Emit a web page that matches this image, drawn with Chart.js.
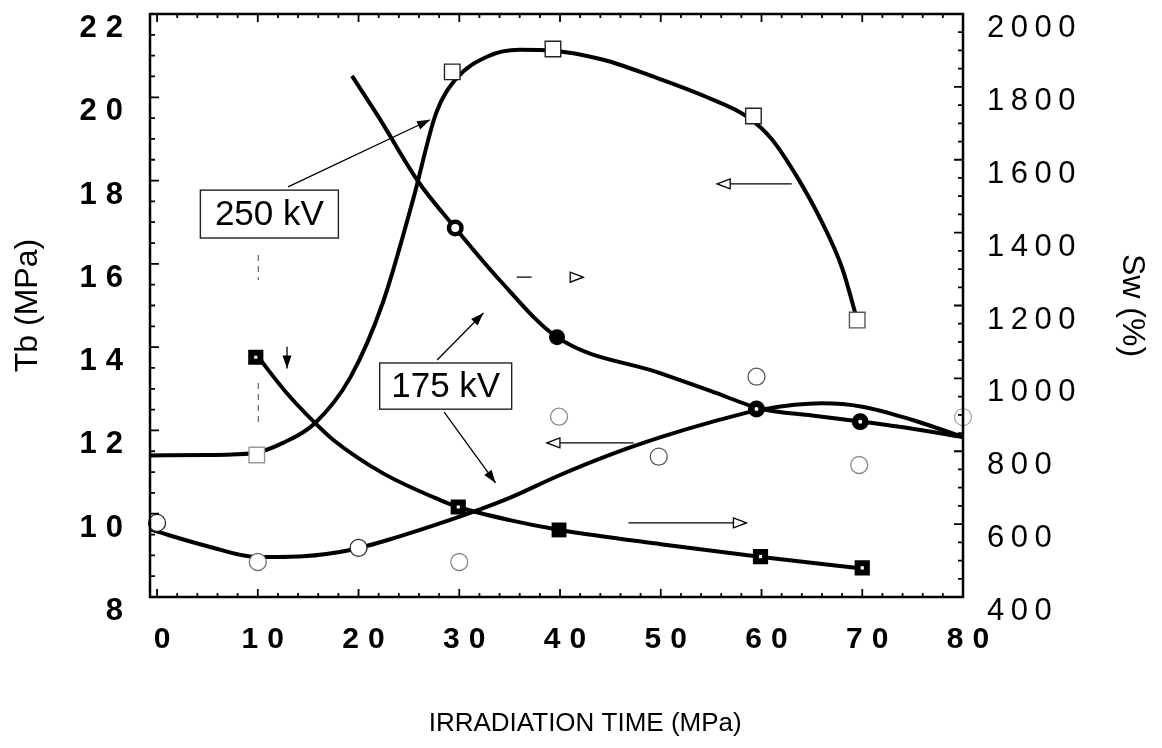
<!DOCTYPE html>
<html>
<head>
<meta charset="utf-8">
<title>Tb and Sw vs irradiation time</title>
<script src="https://cdn.jsdelivr.net/npm/chart.js@4.4.1/dist/chart.umd.min.js"></script>
<style>
    html, body { margin: 0; padding: 0; background: #fff; }
    #wrap { position: relative; width: 1162px; height: 748px; }
</style>
</head>
<body>
<div id="wrap"><canvas id="chart"></canvas></div>
<script>
// --- Values ---
const xTickValues = [0, 10, 20, 30, 40, 50, 60, 70, 80];
const tbTickValues = [8, 10, 12, 14, 16, 18, 20, 22];
const swTickValues = [400, 600, 800, 1000, 1200, 1400, 1600, 1800, 2000];
const xTitle = 'IRRADIATION TIME (MPa)';

// 250 kV, Tb (open squares, left axis)
const tb250CurveTime = [-0.7, 5, 9.5, 12.5, 15.7, 19.2, 22.4, 25.4, 27.7, 29.6, 32.8, 36.0, 39.3, 44.3, 49.2, 54.6, 58.6, 61, 63.5, 66, 68, 69.5];
const tb250CurveTb   = [11.40, 11.41, 11.45, 11.70, 12.18, 13.28, 15.06, 17.53, 19.62, 20.42, 20.98, 21.14, 21.12, 20.90, 20.50, 20.00, 19.53, 19.00, 18.10, 17.00, 15.90, 14.65];
const tb250MarkTime  = [9.9, 29.3, 39.3, 59.2, 69.5];
const tb250MarkTb    = [11.41, 20.61, 21.16, 19.55, 14.65];

// 250 kV, Sw (filled circles, right axis)
const sw250CurveTime = [19.35, 22, 25.9, 29.6, 34.0, 39.7, 50, 55, 60, 65, 70, 75, 80];
const sw250CurveSw   = [1830, 1717, 1541, 1413, 1270, 1113, 1014, 965, 916, 898, 881, 862, 839];
const sw250MarkTime  = [29.6, 39.7, 59.5, 69.8];
const sw250MarkSw    = [1413, 1113, 916, 881];

// 175 kV, Tb (open circles, left axis)
const tb175CurveTime = [-0.7, 5, 9.9, 14.5, 19.2, 24, 29.1, 31.9, 35.0, 40, 45, 50, 55, 60, 66, 70, 75, 80];
const tb175CurveTb   = [9.62, 9.22, 8.96, 8.98, 9.13, 9.45, 9.85, 10.09, 10.38, 10.93, 11.42, 11.84, 12.20, 12.50, 12.65, 12.57, 12.25, 11.84];
const tb175MarkTime  = [0, 10, 20, 30, 39.9, 49.8, 59.5, 69.7, 80];
const tb175MarkTb    = [9.78, 8.84, 9.18, 8.84, 12.33, 11.37, 13.29, 11.17, 12.32];

// 175 kV, Sw (filled squares, right axis)
const sw175CurveTime = [10, 12.8, 15.7, 17.5, 22.4, 28.1, 29.9, 35.0, 40, 50, 60, 70];
const sw175CurveSw   = [1060, 962, 877, 831, 740, 666, 647, 611, 584, 545, 510, 478];
const sw175MarkTime  = [9.8, 29.9, 39.9, 59.9, 70];
const sw175MarkSw    = [1058, 647, 584, 511, 480];

// Labels and arrows, placed in data units (time, Tb)
const labelBoxes = [
    { text: '250 kV', t0: 4.3, t1: 18.0, tbTop: 17.77, tbBottom: 16.62 },
    { text: '175 kV', t0: 22.1, t1: 35.2, tbTop: 13.62, tbBottom: 12.51 }
];
const pointerArrows = [
    { t0: 13.0, tb0: 17.85, t1: 27.1, tb1: 19.46 },
    { t0: 27.8, tb0: 13.69, t1: 32.4, tb1: 14.82 },
    { t0: 28.5, tb0: 12.44, t1: 33.6, tb1: 10.74 },
    { t0: 12.9, tb0: 14.01, t1: 12.9, tb1: 13.49 }
];
const axisArrows = [
    { t0: 63.0, t1: 55.6, tb: 17.92 },
    { t0: 35.7, t1: 42.3, tb: 15.68, dashed: true },
    { t0: 47.3, t1: 38.7, tb: 11.70 },
    { t0: 46.8, t1: 58.5, tb: 9.78 }
];
const scanMarks = [
    { t: 10.05, tb0: 16.21, tb1: 15.61 },
    { t: 10.05, tb0: 13.14, tb1: 12.08 }
];

const FONT = '"Liberation Sans", Arial, Helvetica, sans-serif';

function toPoints(xs, ys) {
    return xs.map((x, i) => ({ x: x, y: ys[i] }));
}

function curve(xs, ys, axis) {
    return {
        data: toPoints(xs, ys),
        yAxisID: axis,
        showLine: true,
        borderColor: '#000',
        borderWidth: 4,
        pointRadius: 0,
        cubicInterpolationMode: 'monotone',
        order: 2
    };
}

/**
 * Draws text with extra letter spacing, like the scanned original.
 * align: 'left', 'right' or 'center' on the visible glyphs.
 */
function spacedText(ctx, text, x, y, align, spacing) {
    const hasSpacing = 'letterSpacing' in ctx;
    if (hasSpacing) ctx.letterSpacing = spacing + 'px';
    let w = ctx.measureText(text).width;
    if (hasSpacing) w -= spacing;
    let left = x;
    if (align === 'right') left = x - w;
    if (align === 'center') left = x - w / 2;
    ctx.textAlign = 'left';
    ctx.fillText(text, left, y);
    if (hasSpacing) ctx.letterSpacing = '0px';
}

function filledHead(ctx, x0, y0, x1, y1, len, half) {
    const a = Math.atan2(y1 - y0, x1 - x0);
    ctx.beginPath();
    ctx.moveTo(x1, y1);
    ctx.lineTo(x1 - len * Math.cos(a) + half * Math.sin(a), y1 - len * Math.sin(a) - half * Math.cos(a));
    ctx.lineTo(x1 - len * Math.cos(a) - half * Math.sin(a), y1 - len * Math.sin(a) + half * Math.cos(a));
    ctx.closePath();
    ctx.fill();
}

// Frame, inward ticks, tick labels and the in-plot notes
const framePlugin = {
    id: 'framePlugin',
    afterDatasetsDraw(chart) {
        const { ctx, chartArea: area } = chart;
        const xs = chart.scales.x;
        const yl = chart.scales.y;
        const yr = chart.scales.y2;
        ctx.save();
        ctx.strokeStyle = '#000';
        ctx.fillStyle = '#000';

        // frame
        ctx.lineWidth = 2.5;
        ctx.strokeRect(area.left, area.top, area.right - area.left, area.bottom - area.top);

        // ticks pointing into the plot
        ctx.lineWidth = 1.8;
        ctx.beginPath();
        for (let v = 0; v <= 80; v += 2) {
            const px = xs.getPixelForValue(v);
            const len = v % 10 === 0 ? 8 : 4;
            ctx.moveTo(px, area.bottom); ctx.lineTo(px, area.bottom - len);
            ctx.moveTo(px, area.top); ctx.lineTo(px, area.top + len);
        }
        for (let v = 8; v <= 22; v += 0.5) {
            const py = yl.getPixelForValue(v);
            const len = v % 2 === 0 ? 9 : 5;
            ctx.moveTo(area.left, py); ctx.lineTo(area.left + len, py);
        }
        for (let v = 400; v <= 2000; v += 50) {
            const py = yr.getPixelForValue(v);
            const len = v % 200 === 0 ? 9 : 5;
            ctx.moveTo(area.right, py); ctx.lineTo(area.right - len, py);
        }
        ctx.stroke();

        // tick labels
        ctx.textBaseline = 'alphabetic';
        ctx.font = 'bold 30px ' + FONT;
        xTickValues.forEach(v => {
            spacedText(ctx, String(v), xs.getPixelForValue(v) + 5, area.bottom + 51, 'center', 9);
        });
        ctx.font = 'bold 31px ' + FONT;
        tbTickValues.forEach(v => {
            spacedText(ctx, String(v), 123, yl.getPixelForValue(v) + 23, 'right', 9);
        });
        ctx.font = '31px ' + FONT;
        swTickValues.forEach(v => {
            spacedText(ctx, String(v), area.right + 24, yr.getPixelForValue(v) + 23, 'left', 6.5);
        });

        // x axis title, centred under the time axis as in the scan
        ctx.font = '26px ' + FONT;
        ctx.textBaseline = 'middle';
        spacedText(ctx, xTitle, xs.getPixelForValue(42.5), area.bottom + 127, 'center', 0);

        // label boxes
        labelBoxes.forEach(b => {
            const x0 = xs.getPixelForValue(b.t0), x1 = xs.getPixelForValue(b.t1);
            const y0 = yl.getPixelForValue(b.tbTop), y1 = yl.getPixelForValue(b.tbBottom);
            ctx.fillStyle = '#fff';
            ctx.fillRect(x0, y0, x1 - x0, y1 - y0);
            ctx.lineWidth = 1.4;
            ctx.strokeStyle = '#222';
            ctx.strokeRect(x0, y0, x1 - x0, y1 - y0);
            ctx.fillStyle = '#000';
            ctx.font = '35px ' + FONT;
            ctx.textAlign = 'center';
            ctx.textBaseline = 'middle';
            ctx.fillText(b.text, (x0 + x1) / 2, (y0 + y1) / 2 + 1);
        });

        // arrows from the labels to the curves
        ctx.strokeStyle = '#000';
        ctx.fillStyle = '#000';
        ctx.lineWidth = 1.3;
        pointerArrows.forEach(a => {
            const x0 = xs.getPixelForValue(a.t0), y0 = yl.getPixelForValue(a.tb0);
            const x1 = xs.getPixelForValue(a.t1), y1 = yl.getPixelForValue(a.tb1);
            ctx.beginPath();
            ctx.moveTo(x0, y0); ctx.lineTo(x1, y1);
            ctx.stroke();
            filledHead(ctx, x0, y0, x1, y1, 13, 4.5);
        });

        // open-headed arrows telling which axis a curve uses
        axisArrows.forEach(a => {
            const x0 = xs.getPixelForValue(a.t0), x1 = xs.getPixelForValue(a.t1);
            const y = yl.getPixelForValue(a.tb);
            const dir = Math.sign(x1 - x0);
            const base = x1 - dir * 13;
            ctx.lineWidth = 1.3;
            ctx.setLineDash(a.dashed ? [15, 38] : []);
            ctx.beginPath();
            ctx.moveTo(x0, y); ctx.lineTo(base, y);
            ctx.stroke();
            ctx.setLineDash([]);
            ctx.beginPath();
            ctx.moveTo(x1, y);
            ctx.lineTo(base, y - 5);
            ctx.lineTo(base, y + 5);
            ctx.closePath();
            ctx.stroke();
        });

        // faint dashed trace under the 250 kV box
        ctx.strokeStyle = '#666';
        ctx.lineWidth = 1.2;
        ctx.setLineDash([6, 5]);
        scanMarks.forEach(m => {
            const px = xs.getPixelForValue(m.t);
            ctx.beginPath();
            ctx.moveTo(px, yl.getPixelForValue(m.tb0));
            ctx.lineTo(px, yl.getPixelForValue(m.tb1));
            ctx.stroke();
        });
        ctx.restore();
    }
};

new Chart(document.getElementById('chart'), {
    type: 'scatter',
    data: {
        datasets: [
            curve(tb250CurveTime, tb250CurveTb, 'y'),
            curve(sw250CurveTime, sw250CurveSw, 'y2'),
            curve(tb175CurveTime, tb175CurveTb, 'y'),
            curve(sw175CurveTime, sw175CurveSw, 'y2'),
            {
                data: toPoints(tb250MarkTime, tb250MarkTb),
                yAxisID: 'y',
                pointStyle: 'rect',
                pointRadius: 11,
                pointBorderWidth: 1.4,
                pointBackgroundColor: '#fff',
                pointBorderColor: ['#999', '#222', '#222', '#222', '#555'],
                clip: false,
                order: 1
            },
            {
                data: toPoints(sw250MarkTime, sw250MarkSw),
                yAxisID: 'y2',
                pointStyle: 'circle',
                pointRadius: [6.25, 8, 5.25, 5.25],
                pointBorderWidth: [4.5, 0, 6.5, 6.5],
                pointBackgroundColor: ['#fff', '#000', '#fff', '#fff'],
                pointBorderColor: '#000',
                clip: false,
                order: 1
            },
            {
                data: toPoints(tb175MarkTime, tb175MarkTb),
                yAxisID: 'y',
                pointStyle: 'circle',
                pointRadius: 8.5,
                pointBorderWidth: 1.3,
                pointBackgroundColor: '#fff',
                pointBorderColor: ['#222', '#777', '#222', '#888', '#888', '#555', '#555', '#888', '#aaa'],
                clip: false,
                order: 1
            },
            {
                data: toPoints(sw175MarkTime, sw175MarkSw),
                yAxisID: 'y2',
                pointStyle: 'rect',
                pointRadius: [6.5, 6.5, 10.5, 6.5, 6.5],
                pointBorderWidth: [6, 6, 0, 6, 6],
                pointBackgroundColor: ['#fff', '#fff', '#000', '#fff', '#fff'],
                pointBorderColor: '#000',
                clip: false,
                order: 1
            }
        ]
    },
    options: {
        responsive: true,
        maintainAspectRatio: false,
        animation: false,
        events: [],
        layout: { padding: { top: 14, left: 0, right: 0, bottom: 0 } },
        plugins: {
            legend: { display: false },
            tooltip: { enabled: false }
        },
        scales: {
            x: {
                type: 'linear',
                position: 'bottom',
                min: -0.7,
                max: 80,
                grid: { display: false },
                border: { display: false },
                ticks: { display: false },
                afterBuildTicks: s => { s.ticks = xTickValues.map(v => ({ value: v })); },
                afterFit: s => { s.height = 151; }
            },
            y: {
                type: 'linear',
                position: 'left',
                min: 8,
                max: 22,
                grid: { display: false },
                border: { display: false },
                ticks: { display: false },
                afterBuildTicks: s => { s.ticks = tbTickValues.map(v => ({ value: v })); },
                afterFit: s => { s.width = 150; },
                title: {
                    display: true,
                    text: 'Tb (MPa)',
                    color: '#000',
                    font: { family: FONT, size: 32 },
                    padding: { top: 9, bottom: 0 }
                }
            },
            y2: {
                type: 'linear',
                position: 'right',
                min: 400,
                max: 2000,
                grid: { display: false },
                border: { display: false },
                ticks: { display: false },
                afterBuildTicks: s => { s.ticks = swTickValues.map(v => ({ value: v })); },
                afterFit: s => { s.width = 199; },
                title: {
                    display: true,
                    text: 'Sw (%)',
                    color: '#000',
                    font: { family: FONT, size: 32 },
                    padding: { top: 11, bottom: 0 }
                }
            }
        }
    },
    plugins: [framePlugin]
});
</script>
</body>
</html>
